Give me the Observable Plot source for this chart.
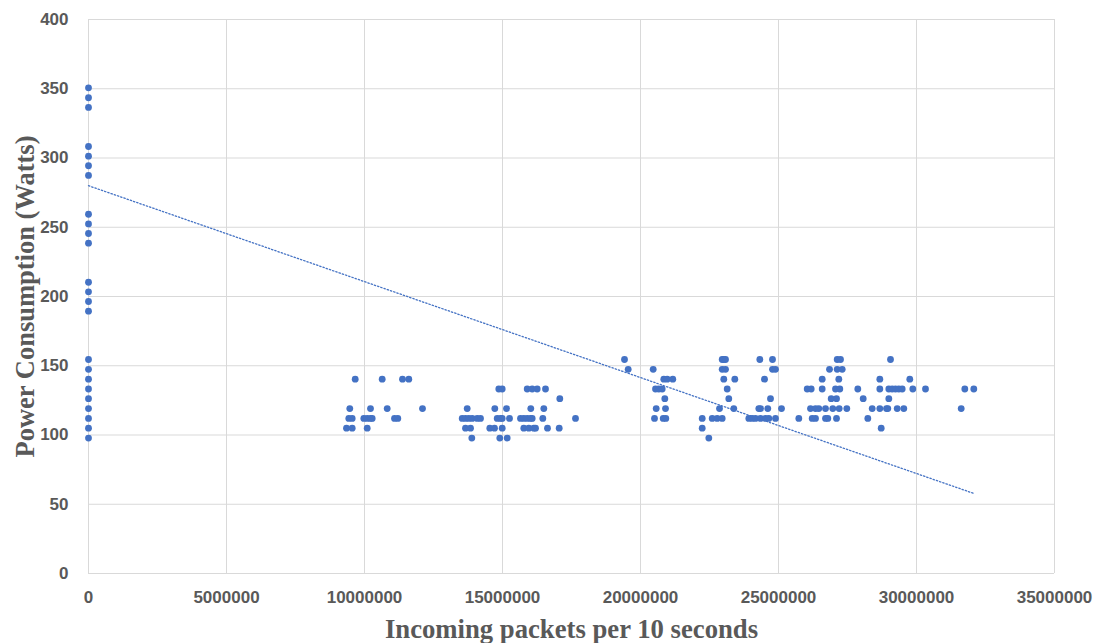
<!DOCTYPE html>
<html>
<head>
<meta charset="utf-8">
<script src="https://cdn.jsdelivr.net/npm/d3@7"></script>
<script src="https://cdn.jsdelivr.net/npm/@observablehq/plot@0.6"></script>
<style>
  html, body { margin: 0; padding: 0; background: #ffffff; }
  #chart svg { display: block; }
</style>
</head>
<body>
<div id="chart"></div>
<script>
// ---- Data ----
const xTitle = "Incoming packets per 10 seconds";
const yTitle = "Power Consumption (Watts)";
const xTicks = [0, 5000000, 10000000, 15000000, 20000000, 25000000, 30000000, 35000000];
const yTicks = [0, 50, 100, 150, 200, 250, 300, 350, 400];

// Power readings while no packets arrive (x = 0)
const zeroTrafficWatts = [97.8, 104.9, 112.0, 119.1, 126.2, 133.2, 140.3, 147.4, 154.5,
  189.4, 196.4, 203.4, 210.3, 238.5, 245.5, 252.4, 259.4,
  287.4, 294.4, 301.3, 308.3, 336.5, 343.5, 350.7];

// Power levels observed under traffic, and the packet counts at each level
const powerLevels = [97.8, 104.9, 112.0, 119.1, 126.2, 133.2, 140.3, 147.4, 154.5];
const packetsAt98 = [13888000, 14902000, 15170000, 22475000];
const packetsAt105 = [9348000, 9554000, 10098000, 13659000, 13841000, 14540000, 14710000, 14989000,
  15772000, 15953000, 16134000, 16196000, 16630000, 17054000, 22236000, 28721000];
const packetsAt112 = [9431000, 9554000, 9975000, 10098000, 10217000, 10279000, 11087000, 11207000,
  13540000, 13659000, 13779000, 13902000, 14083000, 14203000, 14808000, 14928000, 14989000,
  15254000, 15652000, 15772000, 15895000, 16015000, 16076000, 16460000, 17645000,
  20507000, 20823000, 20917000, 22236000, 22598000, 22779000, 22960000, 23924000, 24047000,
  24167000, 24348000, 24529000, 24649000, 24891000, 25736000, 26221000, 26341000, 26703000,
  26787000, 27102000, 28236000];
const packetsAt119 = [9467000, 10217000, 10823000, 12101000, 13721000, 14721000, 15145000, 16025000,
  16497000, 20569000, 20906000, 22862000, 23380000, 24287000, 24348000, 24612000, 25109000,
  26159000, 26341000, 26460000, 26703000, 26967000, 27199000, 27475000, 28395000, 28671000,
  28913000, 28960000, 29301000, 29540000, 31620000];
const packetsAt126 = [17076000, 20881000, 23199000, 24710000, 26909000, 27102000, 28069000, 28997000];
const packetsAt133 = [14866000, 14989000, 15895000, 16076000, 16257000, 16558000, 20544000, 20663000,
  20786000, 23141000, 26040000, 26185000, 26583000, 27065000, 27221000, 27873000, 28671000,
  28997000, 29118000, 29238000, 29359000, 29482000, 29866000, 30326000, 31750000, 32076000];
const packetsAt140 = [9663000, 10641000, 11377000, 11605000, 20844000, 20967000, 21170000, 23018000,
  23417000, 24493000, 26583000, 27185000, 28671000, 29757000];
const packetsAt147 = [19554000, 20460000, 22960000, 23080000, 24783000, 24891000, 26848000, 27127000, 27308000];
const packetsAt154 = [19420000, 22960000, 23018000, 23080000, 24323000, 24783000, 27127000, 27246000, 29058000];

// Linear trendline end points
const trendPackets = [0, 32076000];
const trendWatts = [280, 57.8];

// ---- Build tables ----
const packetsByLevel = [packetsAt98, packetsAt105, packetsAt112, packetsAt119, packetsAt126,
  packetsAt133, packetsAt140, packetsAt147, packetsAt154];
const points = [];
zeroTrafficWatts.forEach(w => points.push({packets: 0, watts: w}));
packetsByLevel.forEach((arr, i) => arr.forEach(p => points.push({packets: p, watts: powerLevels[i]})));
const trend = trendPackets.map((p, i) => ({packets: p, watts: trendWatts[i]}));

const blue = "#4472C4";
const gray = "#595959";
const tickFont = "'Liberation Sans', Arial, sans-serif";
const titleFont = "'Liberation Serif', 'Times New Roman', serif";

const chart = Plot.plot({
  width: 1095,
  height: 643,
  marginLeft: 88,
  marginRight: 41,
  marginTop: 19,
  marginBottom: 70,
  style: {background: "#ffffff", fontFamily: tickFont},
  x: {domain: [0, 35000000], ticks: xTicks},
  y: {domain: [0, 400], ticks: yTicks},
  marks: [
    Plot.gridX(xTicks, {stroke: "#d9d9d9", strokeOpacity: 1, strokeWidth: 1}),
    Plot.gridY(yTicks, {stroke: "#d9d9d9", strokeOpacity: 1, strokeWidth: 1}),
    Plot.axisX(xTicks, {tickSize: 0, tickPadding: 17, label: null, tickFormat: d => String(d),
      fontSize: 17, fontWeight: "bold", fill: gray}),
    Plot.axisY(yTicks, {tickSize: 0, tickPadding: 20, label: null, tickFormat: d => String(d),
      fontSize: 17, fontWeight: "bold", fill: gray}),
    Plot.line(trend, {x: "packets", y: "watts", stroke: blue, strokeWidth: 1.3, strokeDasharray: "1.4,2"}),
    Plot.dot(points, {x: "packets", y: "watts", r: 3.4, fill: blue, stroke: "none"}),
    Plot.text([xTitle], {text: d => d, frameAnchor: "bottom", dy: 64, fontSize: 26.7, fontWeight: "bold",
      fontFamily: titleFont, fill: gray, textAnchor: "middle"}),
    Plot.text([yTitle], {text: d => d, frameAnchor: "left", dx: -63, rotate: -90, fontSize: 26.5,
      fontWeight: "bold", fontFamily: titleFont, fill: gray, textAnchor: "middle", lineAnchor: "middle"})
  ]
});
document.getElementById("chart").appendChild(chart);
</script>
</body>
</html>
